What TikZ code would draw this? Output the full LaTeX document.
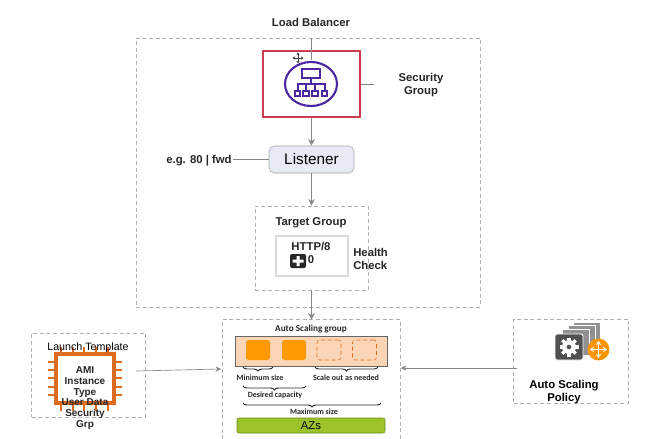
\documentclass[tikz,border=0pt]{standalone}
\usepackage{fontspec}
\setmainfont{Liberation Sans}
\newfontfamily\asgfont{Carlito}
\definecolor{dashgray}{RGB}{175, 175, 175}
\definecolor{linegray}{RGB}{135, 135, 140}
\definecolor{lbred}{RGB}{205, 60, 80}
\definecolor{lbpurple}{RGB}{75, 40, 160}
\definecolor{listenerbg}{RGB}{232, 234, 245}
\definecolor{chiporange}{RGB}{221, 108, 30}
\definecolor{asgpeach}{RGB}{251, 213, 181}
\definecolor{asgorange}{RGB}{255, 153, 0}
\definecolor{azgreen}{RGB}{157, 195, 43}
\definecolor{gearGray}{RGB}{80, 80, 80}
\definecolor{stackgray}{RGB}{145, 145, 145}
\usetikzlibrary{shapes.geometric, arrows.meta, decorations.pathreplacing}
\newcommand{\px}{.75pt}
\tikzset{
  dashbox/.style={draw=dashgray, dash pattern=on 3pt off 2pt, line width=.5pt},
  boldtext/.style={font=\bfseries\fontsize{8.5}{9.8}\selectfont, align=center, text=black!85},
  asgtext/.style={font=\asgfont\bfseries\fontsize{6}{7}\selectfont, inner sep=0pt, text=black!85},
  flow/.style={draw=linegray, line width=.8pt, -{Stealth[length=5pt, width=5pt]}},
  thinflow/.style={draw=linegray, line width=.5pt, -{Stealth[length=4pt, width=4pt]}},
  plainline/.style={draw=linegray, line width=.7pt},
  slot/.style={rounded corners=2pt, minimum width=24*\px, minimum height=20*\px, inner sep=0pt},
  sizebrace/.style={draw=black!85, line width=.7pt, decorate, decoration={brace, mirror, amplitude=3pt}},
  chippin/.style={draw=chiporange, line width=2.1pt},
  stacklayer/.style={fill=stackgray, draw=white, line width=.7pt, minimum width=27*\px, minimum height=26*\px, inner sep=0pt},
  whitearrow/.style={white, line width=1pt, {Stealth[length=3pt, width=4pt]}-{Stealth[length=3pt, width=4pt]}},
  cursorarrow/.style={black!75, line width=.4pt, {Stealth[length=2pt, width=2.5pt]}-{Stealth[length=2pt, width=2.5pt]}}
}

\begin{document}
\begin{tikzpicture}[x=\px, y=-\px]
  \useasboundingbox (0,0) rectangle (651,439);

  % Load balancer
  \node[boldtext] (lbtitle) at (311,22) {Load Balancer};
  \node[dashbox, minimum width=344*\px, minimum height=269*\px] (lbbox) at (308,172.5) {};
  \node[draw=lbred, line width=.9pt, minimum width=97*\px, minimum height=66*\px] (redbox) at (311.5,84) {};
  \coordinate (lbtop) at (311,38);
  \coordinate (lbdrop) at (311,60);
  \draw[plainline] (lbtop) -- (lbdrop);

  % Balancer icon
  \node[draw=lbpurple, line width=1.6pt, ellipse, minimum width=52*\px, minimum height=44*\px, inner sep=0pt] (lbicon) at (311,84) {};
  \begin{scope}[lbpurple, line width=1.1pt]
    \draw (302,69) rectangle (320,78);
    \draw (311,78) -- (311,84) (298,90) -- (298,84) -- (325,84) -- (325,90) (306,90) -- (306,84) (315,90) -- (315,84);
    \draw (295,91) rectangle (300,96) (303,91) rectangle (309,96) (312,91) rectangle (318,96) (322,91) rectangle (327,96);
  \end{scope}

  % Move cursor
  \draw[cursorarrow] (292.5,58) -- (303.5,58);
  \draw[cursorarrow] (298,52.5) -- (298,63.5);

  % Security group
  \node[boldtext] (sgtext) at (421,85) {Security\\Group};
  \coordinate (sgend) at (374,84);
  \draw[plainline] (redbox.east) -- (sgend);

  % Listener
  \node[draw=black!35, fill=listenerbg, rounded corners=4pt, minimum width=85*\px, minimum height=27*\px, inner sep=0pt, font=\fontsize{11.5}{13}\selectfont] (listener) at (311.5,159.5) {Listener};
  \node[boldtext] (fwd) at (199,161) {e.g. 80 | fwd};
  \coordinate (fwdout) at (233,159.5);
  \draw[plainline] (fwdout) -- (listener.west);
  \draw[flow] (redbox.south) -- (listener.north);

  % Target group
  \node[dashbox, minimum width=113*\px, minimum height=84*\px] (tgbox) at (311.5,248) {};
  \node[boldtext] (tgtitle) at (311,223) {Target Group};
  \node[draw=black!15, line width=.8pt, minimum width=72*\px, minimum height=40*\px] (tginner) at (312,256) {};
  \node[boldtext] (http) at (311,246.5) {HTTP/8};
  \node[fill=black!85, rounded corners=1.5pt, minimum width=16*\px, minimum height=14*\px, inner sep=0pt] (hcicon) at (298,261) {};
  \fill[white] (292.5,259.5) rectangle (303.5,262.5) (296.5,256) rectangle (299.5,266);
  \node[boldtext] (hczero) at (311,259.5) {0};
  \node[boldtext, align=left, anchor=west, inner sep=0pt] (hctext) at (353,259) {Health\\Check};
  \draw[flow] (listener.south) -- (tgbox.north);

  % Auto scaling group
  \node[minimum width=178*\px, minimum height=119*\px, inner sep=0pt] (asg) at (311.5,379.5) {};
  \draw[dashbox] (asg.south west) -- (asg.north west) -- (asg.north east) -- (asg.south east);
  \draw[flow] (tgbox.south) -- (asg.north);
  \node[asgtext, font=\asgfont\bfseries\fontsize{6.9}{8}\selectfont] (asgtitle) at (311,329.5) {Auto Scaling group};
  \node[draw=black!60, fill=asgpeach, line width=.5pt, minimum width=152*\px, minimum height=30*\px, inner sep=0pt] (asgband) at (311,351) {};
  \node[slot, fill=asgorange] (inst1) at (258,350) {};
  \node[slot, fill=asgorange] (inst2) at (294,350) {};
  \node[slot, draw=chiporange, densely dashed, line width=.4pt] (inst3) at (329,350) {};
  \node[slot, draw=chiporange, densely dashed, line width=.4pt] (inst4) at (364.5,350) {};
  \draw[sizebrace] (243,367) -- (273,367);
  \node[asgtext] (minsize) at (260,378) {Minimum size};
  \draw[sizebrace] (315,367) -- (378,367);
  \node[asgtext] (scaleout) at (346,378) {Scale out as needed};
  \draw[sizebrace] (243,386) -- (306,386);
  \node[asgtext] (desired) at (275,395) {Desired capacity};
  \draw[sizebrace] (243,403) -- (381,403);
  \node[asgtext] (maxsize) at (314,412) {Maximum size};
  \node[draw=azgreen!70!black, fill=azgreen, line width=.4pt, rounded corners=1.5pt, minimum width=148*\px, minimum height=15*\px, inner sep=0pt, font=\fontsize{8.5}{10}\selectfont] (azs) at (311,425.5) {AZs};

  % Launch template
  \node[dashbox, minimum width=114*\px, minimum height=84*\px] (ltbox) at (88.5,375) {};
  \node[draw=chiporange, line width=2.4pt, minimum width=58*\px, minimum height=49*\px] (chip) at (85,378.5) {};
  \foreach \y in {362,370,378,387,395} {
    \draw[chippin] (48,\y) -- (56,\y);
    \draw[chippin] (114,\y) -- (122,\y);
  }
  \foreach \x in {61,73,84,96,108} {
    \draw[chippin] (\x,347) -- (\x,354);
    \draw[chippin] (\x,403) -- (\x,411);
  }
  \node[boldtext, font=\fontsize{8}{10}\selectfont, text=black] (lttitle) at (88,347.5) {Launch Template};
  \node[boldtext, font=\bfseries\fontsize{7.5}{8.1}\selectfont] (ltlist) at (85,398) {AMI\\Instance\\Type\\User Data\\Security\\Grp};
  \coordinate (ltout) at (136,371);
  \coordinate (asgleft) at (221,369);
  \draw[thinflow] (ltout) -- (asgleft);

  % Scaling policy
  \node[dashbox, minimum width=115*\px, minimum height=84*\px] (policy) at (571,361) {};
  \node[stacklayer] (layer1) at (587,335) {};
  \node[stacklayer] (layer2) at (581.5,338) {};
  \node[stacklayer] (layer3) at (575.5,342) {};
  \node[fill=gearGray, draw=white, line width=.7pt, rounded corners=1.5pt, minimum width=28*\px, minimum height=26*\px, inner sep=0pt] (gearbox) at (569,347) {};
  \foreach \a in {0,45,...,315} {
    \draw[white, line width=2.4pt] (569,347) ++(\a:5) -- ++(\a:4.5);
  }
  \fill[white, even odd rule] (569,347) circle (7) (569,347) circle (2.5);
  \node[circle, fill=asgorange!90!chiporange, minimum size=22*\px, inner sep=0pt] (scaleicon) at (598.5,349.5) {};
  \draw[whitearrow] (590,349.5) -- (607,349.5);
  \draw[whitearrow] (598.5,341) -- (598.5,358);
  \node[boldtext, text=black] (poltext) at (564,392.5) {Auto Scaling\\Policy};
  \coordinate (polout) at (517,368);
  \coordinate (asgright) at (401,368);
  \draw[thinflow] (polout) -- (asgright);
\end{tikzpicture}
\end{document}
